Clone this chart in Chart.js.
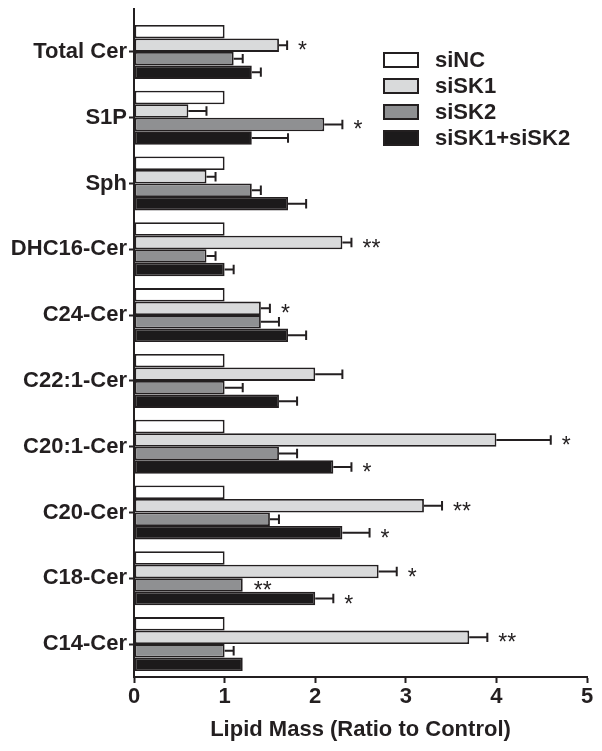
<!DOCTYPE html>
<html>
<head>
<meta charset="utf-8">
<style>
  html, body { margin: 0; padding: 0; background: #fff; }
</style>
<script src="https://cdn.jsdelivr.net/npm/chart.js@4.4.1/dist/chart.umd.min.js"></script>
</head>
<body>
<canvas id="GraficaLipidos" width="602" height="751"></canvas>
<script>
// categorias (de arriba hacia abajo)
const categorias = ['Total Cer', 'S1P', 'Sph', 'DHC16-Cer', 'C24-Cer', 'C22:1-Cer', 'C20:1-Cer', 'C20-Cer', 'C18-Cer', 'C14-Cer'];

// valores por serie
const siNC = [1, 1, 1, 1, 1, 1, 1, 1, 1, 1];
const siSK1 = [1.6, 0.6, 0.8, 2.3, 1.4, 2.0, 4.0, 3.2, 2.7, 3.7];
const siSK2 = [1.1, 2.1, 1.3, 0.8, 1.4, 1.0, 1.6, 1.5, 1.2, 1.0];
const siSK1siSK2 = [1.3, 1.3, 1.7, 1.0, 1.7, 1.6, 2.2, 2.3, 2.0, 1.2];

// error (solo hacia la derecha)
const errNC = [0, 0, 0, 0, 0, 0, 0, 0, 0, 0];
const errSK1 = [0.09, 0.2, 0.1, 0.1, 0.1, 0.3, 0.6, 0.2, 0.2, 0.2];
const errSK2 = [0.1, 0.2, 0.1, 0.1, 0.2, 0.2, 0.2, 0.1, 0, 0.1];
const errSK1SK2 = [0.1, 0.4, 0.2, 0.1, 0.2, 0.2, 0.2, 0.3, 0.2, 0];

// asteriscos de significancia
const sigNC = ['', '', '', '', '', '', '', '', '', ''];
const sigSK1 = ['*', '', '', '**', '*', '', '*', '**', '*', '**'];
const sigSK2 = ['', '*', '', '', '', '', '', '', '**', ''];
const sigSK1SK2 = ['', '', '', '', '', '', '*', '*', '*', ''];

const ticksX = [0, 1, 2, 3, 4, 5];

const tinta = '#231f20';
const fuente = '"Liberation Sans", Arial, sans-serif';

const series = [
    { label: 'siNC', data: siNC, err: errNC, sig: sigNC, color: '#ffffff' },
    { label: 'siSK1', data: siSK1, err: errSK1, sig: sigSK1, color: '#d9dadb' },
    { label: 'siSK2', data: siSK2, err: errSK2, sig: sigSK2, color: '#8f9092' },
    { label: 'siSK1+siSK2', data: siSK1siSK2, err: errSK1SK2, sig: sigSK1SK2, color: '#1c1a1b' }
];

const datasets = series.map(s => ({
    label: s.label,
    data: s.data,
    backgroundColor: s.color,
    borderColor: tinta,
    borderWidth: 1.8,
    borderSkipped: false,
    categoryPercentage: 0.82,
    barPercentage: 1.0
}));

// barras de error, asteriscos, leyenda y extension del eje
const extras = {
    id: 'extras',
    afterDatasetsDraw(chart) {
        const ctx = chart.ctx;
        const x = chart.scales.x;
        ctx.save();
        ctx.strokeStyle = tinta;
        ctx.lineWidth = 2;
        series.forEach((s, d) => {
            const meta = chart.getDatasetMeta(d);
            meta.data.forEach((bar, i) => {
                const e = s.err[i];
                const xFin = x.getPixelForValue(s.data[i] + e);
                if (e > 0) {
                    const h = bar.height * 0.7;
                    ctx.beginPath();
                    ctx.moveTo(bar.x, bar.y);
                    ctx.lineTo(xFin, bar.y);
                    ctx.moveTo(xFin, bar.y - h / 2);
                    ctx.lineTo(xFin, bar.y + h / 2);
                    ctx.stroke();
                }
                if (s.sig[i]) {
                    ctx.fillStyle = tinta;
                    ctx.font = '23px ' + fuente;
                    ctx.textAlign = 'left';
                    ctx.textBaseline = 'alphabetic';
                    ctx.fillText(s.sig[i], Math.max(xFin, bar.x) + 11, bar.y + 13);
                }
            });
        });
        ctx.restore();
    },
    afterDraw(chart) {
        const ctx = chart.ctx;
        const area = chart.chartArea;
        ctx.save();
        // eje y se prolonga por encima del area
        ctx.strokeStyle = tinta;
        ctx.lineWidth = 2;
        ctx.beginPath();
        ctx.moveTo(area.left, 8);
        ctx.lineTo(area.left, area.top + 1);
        ctx.stroke();
        // leyenda
        ctx.font = 'bold 22px ' + fuente;
        ctx.textBaseline = 'middle';
        ctx.textAlign = 'left';
        series.forEach((s, i) => {
            const yc = 60 + i * 26;
            ctx.fillStyle = s.color;
            ctx.fillRect(384, yc - 7, 34, 14);
            ctx.strokeStyle = tinta;
            ctx.lineWidth = 2;
            ctx.strokeRect(384, yc - 7, 34, 14);
            ctx.fillStyle = tinta;
            ctx.fillText(s.label, 435, yc + 1);
        });
        ctx.restore();
    }
};

new Chart(document.getElementById('GraficaLipidos'), {
    type: 'bar',
    data: {
        labels: categorias,
        datasets: datasets
    },
    options: {
        indexAxis: 'y',
        responsive: false,
        animation: false,
        layout: { padding: { top: 19, right: 15, left: 0, bottom: 0 } },
        plugins: {
            legend: { display: false },
            tooltip: { enabled: false }
        },
        scales: {
            x: {
                min: 0,
                max: 5,
                afterBuildTicks: axis => { axis.ticks = ticksX.map(v => ({ value: v })); },
                afterFit: axis => { axis.height = 74; },
                border: { display: true, color: tinta, width: 2 },
                grid: { display: true, drawOnChartArea: false, drawTicks: true, tickLength: 6, tickWidth: 2, tickColor: tinta },
                ticks: { color: tinta, padding: 1, font: { family: fuente, size: 22, weight: 'bold' } },
                title: {
                    display: true,
                    text: 'Lipid Mass (Ratio to Control)',
                    color: tinta,
                    padding: { top: 0, bottom: 8 },
                    font: { family: fuente, size: 22, weight: 'bold' }
                }
            },
            y: {
                afterFit: axis => { axis.width = 134; },
                border: { display: true, color: tinta, width: 2 },
                grid: { display: true, offset: false, drawOnChartArea: false, drawTicks: true, tickLength: 5, tickWidth: 2, tickColor: tinta },
                ticks: { color: tinta, padding: 2, font: { family: fuente, size: 22, weight: 'bold' } }
            }
        }
    },
    plugins: [extras]
});
</script>
</body>
</html>
